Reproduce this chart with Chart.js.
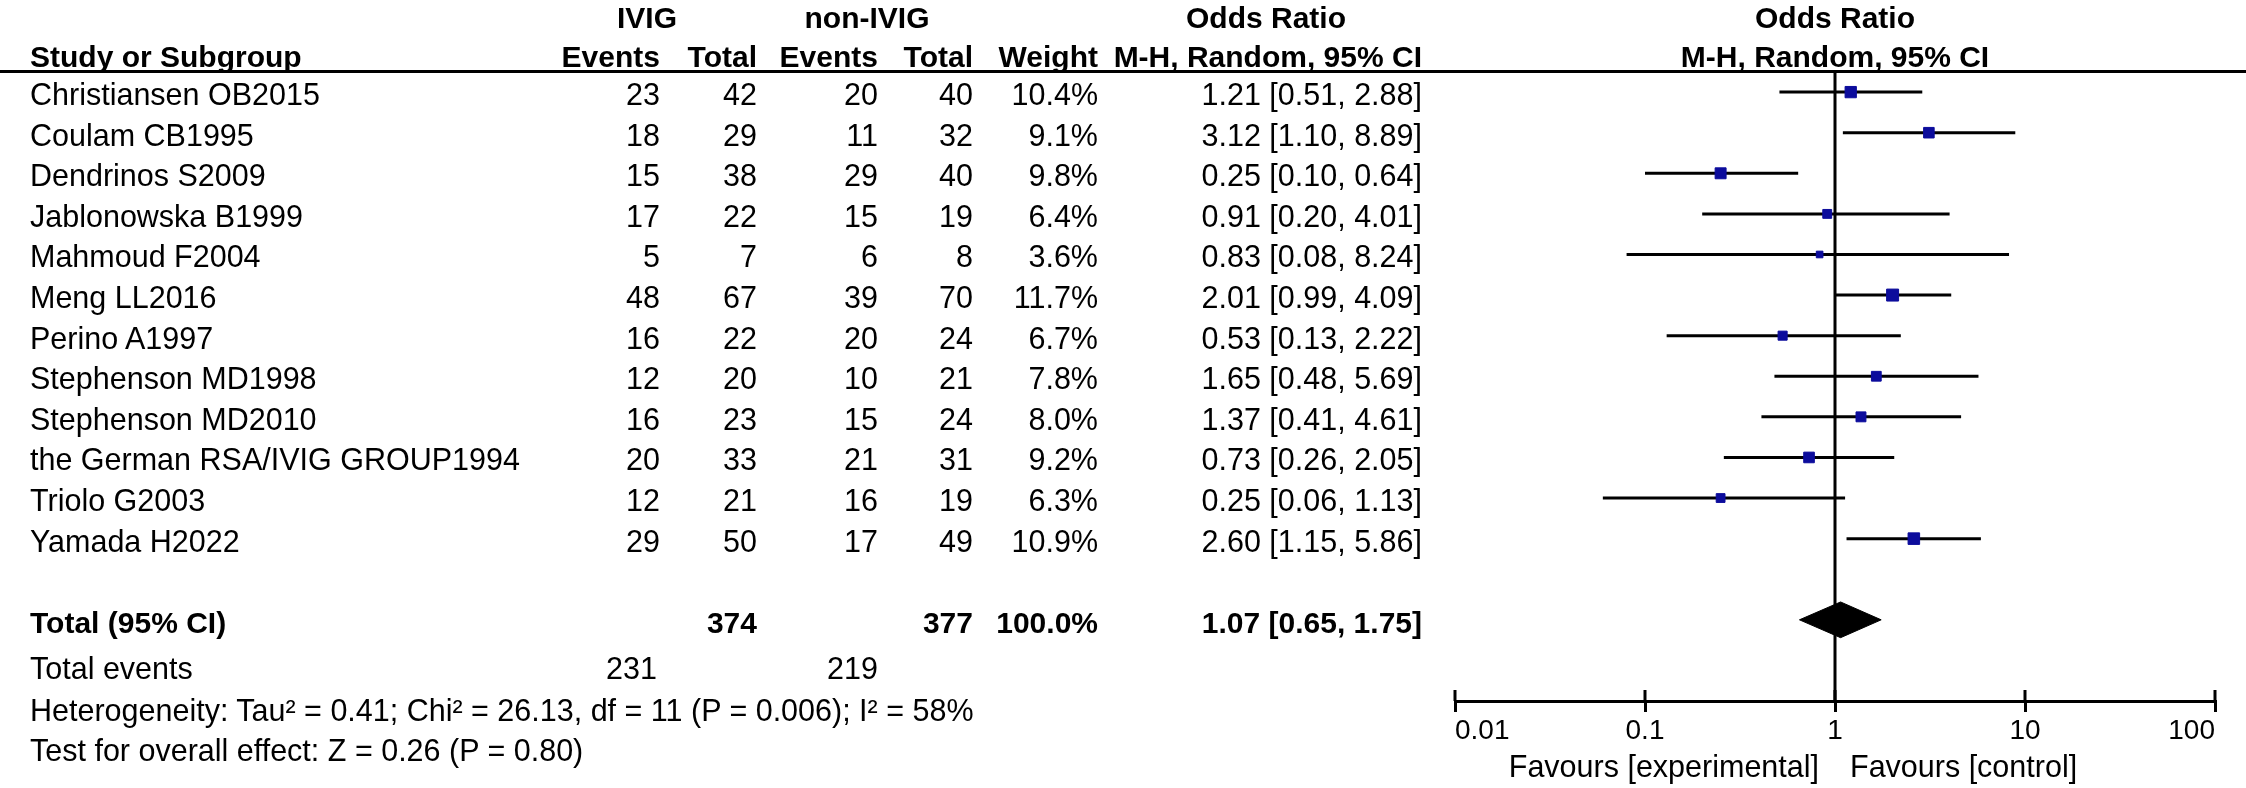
<!DOCTYPE html>
<html><head><meta charset="utf-8">
<script src="https://cdn.jsdelivr.net/npm/chart.js@4.4.1/dist/chart.umd.min.js"></script>
<style>
html,body{margin:0;padding:0;background:#fff;}
#wrap{position:relative;width:2246px;height:788px;overflow:hidden;background:#fff;}
canvas{position:absolute;left:0;top:0;}
.t{position:absolute;white-space:nowrap;font-family:"Liberation Sans",Arial,Helvetica,sans-serif;font-size:30.5px;line-height:1;color:#000;}
.b{font-weight:bold;font-size:30px;}
.rule{position:absolute;left:0;top:70px;width:2246px;height:3px;background:#000;}
</style></head><body>
<div id="wrap"><canvas id="c" width="2246" height="788"></canvas><div class="rule"></div></div>
<script>
// ---- data ----
const studies = ["Christiansen OB2015","Coulam CB1995","Dendrinos S2009","Jablonowska B1999","Mahmoud F2004","Meng LL2016","Perino A1997","Stephenson MD1998","Stephenson MD2010","the German RSA/IVIG GROUP1994","Triolo G2003","Yamada H2022"];
const ivigEvents = [23,18,15,17,5,48,16,12,16,20,12,29];
const ivigTotal  = [42,29,38,22,7,67,22,20,23,33,21,50];
const ctrlEvents = [20,11,29,15,6,39,20,10,15,21,16,17];
const ctrlTotal  = [40,32,40,19,8,70,24,21,24,31,19,49];
const weights    = [10.4,9.1,9.8,6.4,3.6,11.7,6.7,7.8,8.0,9.2,6.3,10.9];
const orValues   = [1.21,3.12,0.25,0.91,0.83,2.01,0.53,1.65,1.37,0.73,0.25,2.60];
const ciLower    = [0.51,1.10,0.10,0.20,0.08,0.99,0.13,0.48,0.41,0.26,0.06,1.15];
const ciUpper    = [2.88,8.89,0.64,4.01,8.24,4.09,2.22,5.69,4.61,2.05,1.13,5.86];
const totalN     = [374,377];
const totalEvents= [231,219];
const totalWeight = 100.0;
const pooled     = [1.07,0.65,1.75]; // OR, lower, upper
const tickValues = [0.01,0.1,1,10,100];
const tickLabels = ["0.01","0.1","1","10","100"];
const heterogeneityText = "Heterogeneity: Tau² = 0.41; Chi² = 26.13, df = 11 (P = 0.006); I² = 58%";
const overallText = "Test for overall effect: Z = 0.26 (P = 0.80)";

// ---- layout constants ----
const FONT = '"Liberation Sans", Arial, Helvetica, sans-serif';
const COL = {study:30, ev1:660, tot1:757, ev2:878, tot2:973, wt:1098, or:1422};
const Y_MIN = 0.48, Y_MAX = 16.0, TOTAL_ROW = 14, DIAMOND_H = 0.44;
const TEXT_DY = 2;
const MARK = '#0c0c9c';

const rows = studies.map((s,i)=>i+1);
const ciDatasets = rows.map((r,i)=>({
  type:'line', data:[{x:ciLower[i],y:r},{x:ciUpper[i],y:r}],
  borderColor:'#000', borderWidth:3, pointRadius:0, order:2, borderCapStyle:'butt'
}));

const tickUp = {id:'tickUp', afterDraw(chart){
  const xs = chart.scales.x, ctx = chart.ctx, b = chart.chartArea.bottom;
  ctx.save(); ctx.strokeStyle='#000'; ctx.lineWidth=3;
  tickValues.forEach(v=>{const p=xs.getPixelForValue(v); ctx.beginPath(); ctx.moveTo(p,b-11); ctx.lineTo(p,b); ctx.stroke();});
  ctx.restore();
}};

const chart = new Chart(document.getElementById('c'), {
  type:'scatter',
  data:{datasets:[
    {type:'line', data:[{x:1,y:Y_MIN},{x:1,y:Y_MAX}], borderColor:'#000', borderWidth:3, pointRadius:0, order:3},
    ...ciDatasets,
    {type:'scatter', data:rows.map((r,i)=>({x:orValues[i],y:r})), pointStyle:'rect',
     pointRadius:weights.map(w=>3.5*Math.sqrt(w)/Math.SQRT2), backgroundColor:MARK, borderColor:MARK, pointBorderWidth:1, order:0},
    {type:'line', data:[{x:pooled[1],y:TOTAL_ROW},{x:pooled[0],y:TOTAL_ROW-DIAMOND_H},{x:pooled[2],y:TOTAL_ROW},{x:pooled[0],y:TOTAL_ROW+DIAMOND_H},{x:pooled[1],y:TOTAL_ROW}],
     borderColor:'#000', backgroundColor:'#000', borderWidth:1, fill:'shape', pointRadius:0, tension:0, order:1}
  ]},
  options:{
    responsive:false, animation:false, devicePixelRatio:1,
    layout:{padding:{left:1455, right:31, top:71, bottom:0}},
    plugins:{legend:{display:false}, tooltip:{enabled:false}},
    events:[],
    scales:{
      x:{type:'logarithmic', min:0.01, max:100, position:'bottom',
        afterBuildTicks:s=>{ s.ticks = tickValues.map(v=>({value:v})); },
        afterFit:s=>{ s.height = 87; },
        ticks:{align:'inner', autoSkip:false, maxRotation:0, color:'#000', padding:2,
          font:{family:FONT, size:28},
          callback:(v)=>{ const k = tickValues.findIndex(t=>Math.abs(t-v)<1e-9); return k>=0?tickLabels[k]:''; }},
        grid:{display:true, drawOnChartArea:false, drawTicks:true, tickLength:11, color:'#000', lineWidth:3},
        border:{display:true, color:'#000', width:3}
      },
      y:{type:'linear', min:Y_MIN, max:Y_MAX, reverse:true, display:false}
    }
  },
  plugins:[tickUp]
});

// ---- text ----
const wrap = document.getElementById('wrap');
function place(txt, x, y, align, bold){
  const d = document.createElement('div');
  d.className = 't' + (bold?' b':'');
  d.textContent = txt;
  d.style.left = x+'px'; d.style.top = y+'px';
  const tx = align==='r' ? '-100%' : (align==='c' ? '-50%' : '0');
  d.style.transform = `translate(${tx},-50%)`;
  wrap.appendChild(d);
}
const ys = chart.scales.y, xs = chart.scales.x;
const xOne = xs.getPixelForValue(1);
const fmtOR = (o,l,h)=>`${o.toFixed(2)} [${l.toFixed(2)}, ${h.toFixed(2)}]`;

// headers
place("IVIG", 647, 18, 'c', true);
place("non-IVIG", 867, 18, 'c', true);
place("Odds Ratio", 1266, 18, 'c', true);
place("Odds Ratio", xOne, 18, 'c', true);
place("Study or Subgroup", COL.study, 57, 'l', true);
place("Events", COL.ev1, 57, 'r', true);
place("Total", COL.tot1, 57, 'r', true);
place("Events", COL.ev2, 57, 'r', true);
place("Total", COL.tot2, 57, 'r', true);
place("Weight", COL.wt, 57, 'r', true);
place("M-H, Random, 95% CI", COL.or, 57, 'r', true);
place("M-H, Random, 95% CI", xOne, 57, 'c', true);

studies.forEach((s,i)=>{
  const y = ys.getPixelForValue(i+1) + TEXT_DY;
  place(s, COL.study, y, 'l');
  place(String(ivigEvents[i]), COL.ev1, y, 'r');
  place(String(ivigTotal[i]), COL.tot1, y, 'r');
  place(String(ctrlEvents[i]), COL.ev2, y, 'r');
  place(String(ctrlTotal[i]), COL.tot2, y, 'r');
  place(weights[i].toFixed(1)+'%', COL.wt, y, 'r');
  place(fmtOR(orValues[i],ciLower[i],ciUpper[i]), COL.or, y, 'r');
});
const yt = ys.getPixelForValue(TOTAL_ROW) + 3;
place("Total (95% CI)", COL.study, yt, 'l', true);
place(String(totalN[0]), COL.tot1, yt, 'r', true);
place(String(totalN[1]), COL.tot2, yt, 'r', true);
place(totalWeight.toFixed(1)+'%', COL.wt, yt, 'r', true);
place(fmtOR(pooled[0],pooled[1],pooled[2]), COL.or, yt, 'r', true);
place("Total events", COL.study, 668, 'l');
place(String(totalEvents[0]), COL.ev1 - 3, 668, 'r');
place(String(totalEvents[1]), COL.ev2, 668, 'r');
place(heterogeneityText, COL.study, 710, 'l');
place(overallText, COL.study, 750, 'l');
place("Favours [experimental]", xOne - 16, 766, 'r');
place("Favours [control]", xOne + 15, 766, 'l');
</script>
</body></html>
